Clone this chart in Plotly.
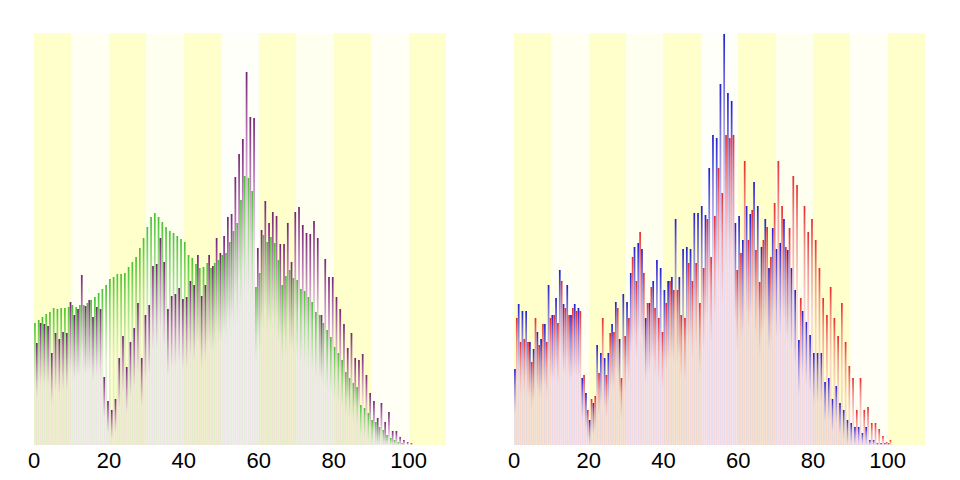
import plotly.graph_objects as go

# bar heights (arbitrary units, 0..412)
purple = [102, 122, 121, 119, 92, 112, 106, 113, 112, 143,
          130, 136, 170, 139, 145, 128, 138, 136, 68, 44,
          35, 46, 87, 109, 78, 103, 117, 142, 87, 130,
          140, 179, 181, 207, 183, 136, 149, 151, 157, 146,
          148, 164, 160, 190, 149, 160, 190, 179, 207, 192,
          209, 228, 231, 268, 291, 306, 373, 328, 327, 197,
          215, 244, 222, 233, 229, 201, 201, 222, 183, 233,
          238, 220, 212, 211, 224, 207, 130, 186, 168, 168,
          148, 136, 121, 97, 112, 87, 85, 91, 70, 52,
          44, 27, 42, 23, 33, 14, 14, 8, 5, 3,
          2]
green = [122, 125, 128, 131, 133, 137, 136, 137, 137, 138,
         140, 138, 140, 140, 142, 145, 148, 152, 156, 160,
         166, 168, 171, 171, 172, 178, 183, 188, 197, 207,
         218, 228, 232, 228, 223, 218, 214, 212, 209, 206,
         203, 190, 187, 181, 177, 178, 182, 177, 182, 185,
         190, 192, 203, 214, 222, 245, 269, 267, 254, 158,
         172, 210, 203, 208, 202, 185, 160, 169, 175, 167,
         165, 156, 154, 148, 143, 133, 130, 122, 115, 108,
         98, 92, 85, 73, 67, 62, 58, 40, 37, 32,
         25, 23, 18, 15, 10, 7, 5, 3, 2]
blue = [76, 141, 134, 134, 103, 96, 113, 106, 121, 160,
        130, 147, 175, 141, 160, 130, 141, 137, 67, 52,
        25, 42, 100, 92, 87, 92, 121, 143, 106, 151,
        143, 172, 198, 202, 196, 127, 142, 164, 185, 177,
        155, 164, 168, 226, 168, 196, 198, 196, 232, 232,
        239, 230, 277, 310, 307, 361, 411, 352, 344, 222,
        229, 205, 239, 231, 263, 239, 198, 226, 177, 217,
        196, 202, 226, 195, 177, 155, 105, 134, 123, 110,
        92, 92, 92, 63, 67, 46, 59, 42, 35, 25,
        22, 18, 18, 12, 18, 5, 5, 2, 2, 2,
        2]
red = [127, 103, 106, 103, 83, 127, 100, 121, 103, 127,
       130, 122, 164, 137, 130, 137, 134, 134, 70, 35,
       46, 49, 72, 127, 70, 112, 113, 137, 67, 109,
       127, 188, 164, 213, 172, 142, 158, 137, 127, 113,
       142, 164, 155, 155, 130, 127, 182, 164, 182, 142,
       177, 226, 188, 229, 277, 252, 310, 307, 310, 175,
       192, 284, 205, 235, 195, 163, 205, 218, 188, 242,
       284, 239, 198, 217, 269, 260, 147, 239, 213, 226,
       205, 177, 147, 130, 158, 127, 109, 142, 103, 79,
       67, 35, 67, 35, 38, 22, 22, 16, 9, 3,
       5]

# background stripes, one per 10 units
band_centers = [5, 15, 25, 35, 45, 55, 65, 75, 85, 95, 105]
band_levels = [1, 0.25, 1, 0.3, 1, 0.1, 1, 0.3, 1, 0.2, 1]

tick_vals = [0, 20, 40, 60, 80, 100]

BAR_W = 0.46
Y_MAX = 412

fig = go.Figure()


def add_band(xa, ya):
    fig.add_trace(go.Heatmap(
        x=band_centers, y=[0, Y_MAX], z=[band_levels, band_levels],
        zmin=0, zmax=1, colorscale=[[0, "#ffffff"], [1, "#ffffcc"]],
        showscale=False, hoverinfo="skip", xaxis=xa, yaxis=ya))


def add_bars(values, offset, top, mid, pale, xa, ya):
    # each bar gets its own vertical gradient, dark at the top
    for i, v in enumerate(values):
        x0 = i + offset
        x1 = x0 + BAR_W
        fade = min(v, 16 + 0.38 * v)
        fig.add_trace(go.Scatter(
            x=[x0, x0, x1, x1], y=[0, v, v, 0],
            mode="none", fill="toself",
            fillgradient=dict(type="vertical",
                              colorscale=[[0, pale], [0.6, mid], [1, top]],
                              start=v - fade, stop=v),
            hoverinfo="skip", showlegend=False, xaxis=xa, yaxis=ya))


add_band("x", "y")
add_band("x2", "y2")
add_bars(green, 0.02, "rgb(70,195,50)", "rgba(120,210,100,0.8)", "rgba(200,228,190,0.55)", "x", "y")
add_bars(purple, 0.52, "rgb(115,35,115)", "rgba(165,85,165,0.8)", "rgba(232,200,228,0.55)", "x", "y")
add_bars(blue, 0.02, "rgb(30,30,210)", "rgba(110,100,220,0.8)", "rgba(210,195,240,0.6)", "x2", "y2")
add_bars(red, 0.52, "rgb(235,40,40)", "rgba(240,120,120,0.8)", "rgba(245,190,198,0.6)", "x2", "y2")

xaxis_style = dict(range=[0, 110], tickvals=tick_vals, showgrid=False, zeroline=False,
                   showline=False, ticks="", automargin=False,
                   tickfont=dict(size=22, color="black"))
yaxis_style = dict(range=[0, Y_MAX], visible=False, showgrid=False, zeroline=False,
                   automargin=False)

fig.update_layout(
    width=960, height=480,
    margin=dict(l=0, r=0, t=25, b=43),
    paper_bgcolor="white", plot_bgcolor="white",
    font=dict(family="Liberation Sans, Arial, sans-serif"),
    showlegend=False,
    xaxis=dict(domain=[0.0271, 0.4563], anchor="y", **xaxis_style),
    xaxis2=dict(domain=[0.5271, 0.9552], anchor="y2", **xaxis_style),
    yaxis=dict(anchor="x", **yaxis_style),
    yaxis2=dict(anchor="x2", **yaxis_style),
)

fig.write_html("out.html")
